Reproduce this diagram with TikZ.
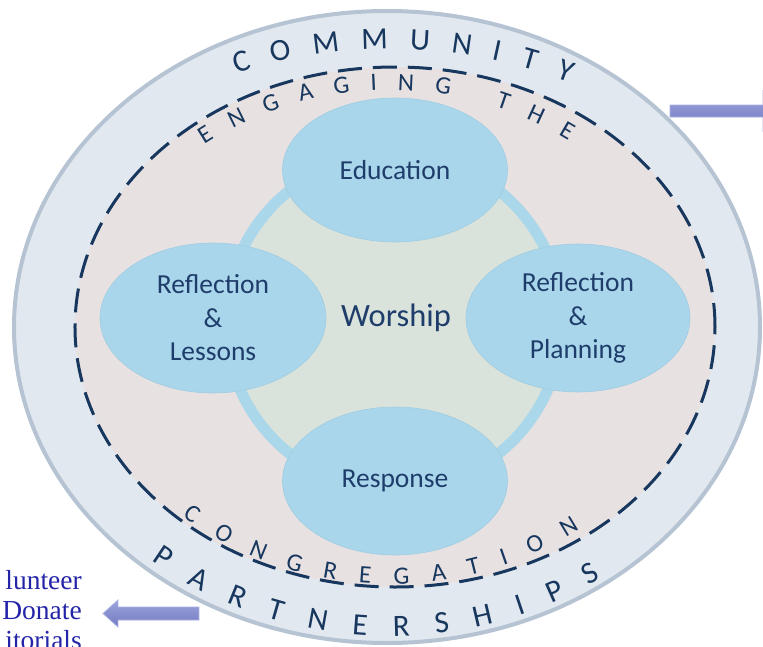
\documentclass[tikz,border=0pt]{standalone}
\usepackage{fontspec}
\setmainfont{Carlito}
\newfontfamily\sidefont{Liberation Serif}
\usepackage{tikz}
\usetikzlibrary{shapes.geometric,decorations.text}
\definecolor{ringblue}{HTML}{E1E8EF}
\definecolor{ringedge}{HTML}{B5C3D3}
\definecolor{pinkfill}{HTML}{E8E1E1}
\definecolor{navy}{HTML}{17375E}
\definecolor{bubblefill}{HTML}{A9D6EA}
\definecolor{bubbleedge}{HTML}{9FCDE2}
\definecolor{coreblue}{HTML}{ABD7EA}
\definecolor{corefill}{HTML}{D9E3DB}
\definecolor{labelblue}{HTML}{1F3D6B}
\definecolor{arrowtop}{HTML}{9CA3DC}
\definecolor{arrowbot}{HTML}{737BC3}
\definecolor{arrowedge}{HTML}{A9B0E2}
\definecolor{sideblue}{HTML}{2424A8}

\newcommand\ringfontA{\fontsize{31}{36}\selectfont}
\newcommand\ringfontB{\fontsize{25}{30}\selectfont}

\tikzset{
  bubble/.style={ellipse, fill=bubblefill, draw=bubbleedge, line width=0.6pt, inner sep=0pt,
    text=labelblue, align=center, font=\fontsize{27.5}{33.5}\selectfont},
  arrowshape/.style={top color=arrowtop, bottom color=arrowbot, draw=arrowedge, line width=0.8pt},
  sidetext/.style={text=sideblue, anchor=base east, inner sep=0pt, font=\sidefont\fontsize{27.5}{30}\selectfont},
  bigarc/.style={decorate, decoration={text along path, text align={fit to path}, text color=navy}}
}

\begin{document}
\begin{tikzpicture}[x=10pt, y=10pt]
\useasboundingbox (-39,-31.9) rectangle (37.3,32.7);
\clip (-39,-31.9) rectangle (37.3,32.7);

% outer ring and dashed band
\draw[fill=ringblue, draw=ringedge, line width=4pt] (-0.3,0) ellipse [x radius=37.3, y radius=31.6];
\fill[pinkfill] (0.5,0) ellipse [x radius=32, y radius=26];
\draw[navy, line width=3pt, dash pattern=on 24pt off 11pt] (0.5,0) ellipse [x radius=32, y radius=26];

% lettering round the rings
\path[bigarc, decoration={text={|\ringfontA|COMMUNITY}}]
  ([shift={(0,-22)}]108:49.8) arc[start angle=108, end angle=68.9, radius=49.8];
\path[bigarc, decoration={text={|\ringfontB|ENGAGING THE}}]
  ([shift={(0,-10.4)}]123:34.1) arc[start angle=123, end angle=58.4, radius=34.1];
\path[bigarc, decoration={text={|\ringfontB|CONGREGATION}}]
  ([shift={(0,9.6)}]234:35.3) arc[start angle=234, end angle=302.5, radius=35.3];
\path[bigarc, decoration={text={|\ringfontA|PARTNERSHIPS}}]
  ([shift={(0,10.7)}]235:41.6) arc[start angle=235, end angle=300.5, radius=41.6];

% centre circle
\draw[coreblue, line width=11pt, fill=corefill] (0.4,0.5) circle [radius=16.8];
\node[text=labelblue, font=\fontsize{32.5}{38}\selectfont] (worship) at (0.6,0.9) {Worship};

\node[bubble, minimum width=225pt, minimum height=144pt] (education) at (0.5,15.7) {Education};
\node[bubble, minimum width=226pt, minimum height=150pt] (lessons) at (-17.7,0.9) {Reflection\\\&\\Lessons};
\node[bubble, minimum width=224pt, minimum height=148pt] (planning) at (18.8,0.9) {Reflection\\\&\\Planning};
\node[bubble, minimum width=225pt, minimum height=148pt] (response) at (0.5,-15.4) {Response};

% arrows going off the page
\draw[arrowshape] (28.0,22.2)--(37.3,22.2)--(37.3,23.6)--(39.5,21.6)--(37.3,19.6)--(37.3,21.0)--(28.0,21.0)--cycle;
\draw[arrowshape] (-19.1,-28.0)--(-27.2,-28.0)--(-27.2,-27.3)--(-28.7,-28.65)--(-27.2,-30.0)--(-27.2,-29.3)--(-19.1,-29.3)--cycle;

\node[sidetext] (volunteer) at (-30.8,-26.2) {lunteer};
\node[sidetext] (donate) at (-30.8,-29.2) {Donate};
\node[sidetext] (editorials) at (-30.8,-32.2) {itorials};

\end{tikzpicture}
\end{document}
